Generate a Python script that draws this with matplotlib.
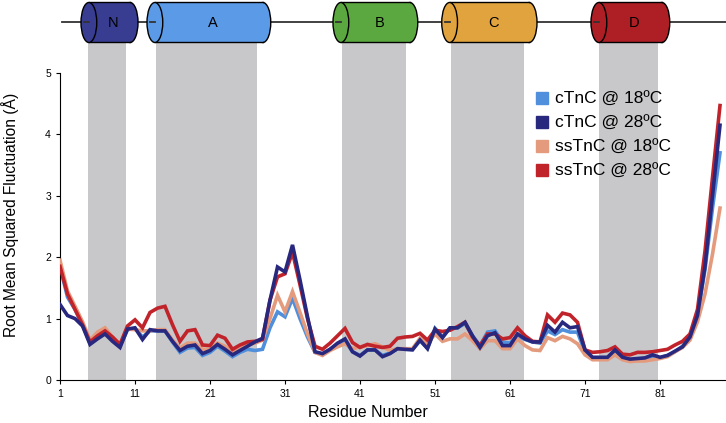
import numpy as np
import matplotlib.pyplot as plt
from matplotlib.patches import Ellipse, Rectangle
from matplotlib.lines import Line2D

plt.rcParams['font.family'] = ['Liberation Sans', 'DejaVu Sans']

# residue numbers
residues = np.arange(1, 90)

# RMSF values (A)
ctnc_18 = [1.85, 1.35, 1.15, 0.90, 0.60, 0.70, 0.78, 0.65, 0.55, 0.82,
           0.84, 0.70, 0.80, 0.80, 0.80, 0.62, 0.45, 0.52, 0.53, 0.40,
           0.45, 0.55, 0.47, 0.38, 0.45, 0.50, 0.48, 0.50, 0.85, 1.11,
           1.03, 1.33, 1.00, 0.70, 0.45, 0.42, 0.50, 0.58, 0.64, 0.46,
           0.40, 0.49, 0.49, 0.40, 0.44, 0.51, 0.50, 0.50, 0.64, 0.52,
           0.84, 0.70, 0.85, 0.85, 0.92, 0.72, 0.56, 0.78, 0.80, 0.62,
           0.60, 0.72, 0.66, 0.62, 0.60, 0.80, 0.74, 0.82, 0.78, 0.78,
           0.45, 0.36, 0.36, 0.36, 0.46, 0.36, 0.33, 0.34, 0.35, 0.38,
           0.36, 0.40, 0.46, 0.55, 0.70, 1.05, 1.80, 2.80, 3.70]
ctnc_28 = [1.23, 1.05, 1.00, 0.88, 0.58, 0.67, 0.75, 0.63, 0.53, 0.83,
           0.85, 0.66, 0.82, 0.80, 0.80, 0.63, 0.48, 0.55, 0.57, 0.43,
           0.48, 0.58, 0.50, 0.41, 0.48, 0.55, 0.62, 0.68, 1.30, 1.84,
           1.76, 2.20, 1.63, 1.03, 0.46, 0.43, 0.50, 0.60, 0.67, 0.46,
           0.39, 0.49, 0.49, 0.38, 0.43, 0.51, 0.50, 0.49, 0.65, 0.51,
           0.83, 0.69, 0.85, 0.85, 0.94, 0.72, 0.53, 0.72, 0.77, 0.56,
           0.56, 0.75, 0.67, 0.62, 0.62, 0.89, 0.78, 0.94, 0.85, 0.87,
           0.49, 0.37, 0.37, 0.37, 0.49, 0.37, 0.34, 0.35, 0.36, 0.41,
           0.37, 0.40, 0.47, 0.54, 0.70, 1.05, 1.85, 3.00, 4.15]
sstnc_18 = [1.95, 1.45, 1.20, 0.95, 0.65, 0.78, 0.85, 0.70, 0.58, 0.83,
            0.82, 0.80, 0.80, 0.82, 0.82, 0.65, 0.52, 0.60, 0.60, 0.50,
            0.50, 0.60, 0.55, 0.45, 0.50, 0.58, 0.60, 0.65, 1.00, 1.38,
            1.11, 1.44, 1.10, 0.75, 0.45, 0.40, 0.48, 0.54, 0.59, 0.51,
            0.54, 0.56, 0.59, 0.54, 0.48, 0.51, 0.51, 0.51, 0.68, 0.59,
            0.75, 0.63, 0.67, 0.67, 0.75, 0.64, 0.51, 0.64, 0.64, 0.51,
            0.51, 0.67, 0.56, 0.49, 0.48, 0.69, 0.64, 0.71, 0.67, 0.59,
            0.41, 0.33, 0.33, 0.33, 0.41, 0.33, 0.30, 0.31, 0.31, 0.33,
            0.35, 0.38, 0.46, 0.53, 0.65, 0.95, 1.40, 2.05, 2.80]
sstnc_28 = [1.85, 1.40, 1.15, 0.90, 0.62, 0.72, 0.80, 0.70, 0.58, 0.88,
            0.98, 0.85, 1.10, 1.17, 1.20, 0.90, 0.63, 0.80, 0.82, 0.57,
            0.56, 0.73, 0.68, 0.50, 0.57, 0.62, 0.63, 0.66, 1.30, 1.68,
            1.73, 2.08, 1.55, 1.00, 0.55, 0.50, 0.60, 0.72, 0.84, 0.61,
            0.53, 0.58, 0.55, 0.53, 0.55, 0.68, 0.70, 0.71, 0.76, 0.65,
            0.81, 0.79, 0.81, 0.87, 0.94, 0.70, 0.56, 0.75, 0.75, 0.67,
            0.69, 0.85, 0.72, 0.63, 0.62, 1.06, 0.94, 1.09, 1.06, 0.94,
            0.49, 0.45, 0.46, 0.48, 0.54, 0.42, 0.41, 0.45, 0.45, 0.46,
            0.48, 0.50, 0.57, 0.63, 0.75, 1.15, 2.10, 3.30, 4.47]

labels = ['cTnC @ 18ºC', 'cTnC @ 28ºC', 'ssTnC @ 18ºC', 'ssTnC @ 28ºC']
colors = ['#4F8FDC', '#28287F', '#E49A7C', '#C1232B']

# helix regions (residue ranges) and shaded bands
helix_names = ['N', 'A', 'B', 'C', 'D']
helix_start = [3.8, 12.6, 37.4, 51.9, 71.8]
helix_end = [11.4, 29.1, 48.7, 64.6, 82.3]
helix_colors = ['#383D92', '#5A9AE6', '#5BA840', '#E1A33E', '#AE1E25']
band_start = [4.7, 13.8, 38.6, 53.1, 72.9]
band_end = [9.8, 27.2, 47.1, 62.9, 80.7]

W, H = 726, 423
fig = plt.figure(figsize=(W / 100, H / 100), dpi=100)

ymax = (380 - 43) / 61.4
ax = fig.add_axes([60 / W, (H - 380) / H, (W - 60) / W, (380 - 43) / H])
ax.set_xlim(1, 89.8)
ax.set_ylim(0, ymax)

for s, e in zip(band_start, band_end):
    ax.axvspan(s, e, color='#C8C8CA', lw=0, zorder=0)

order = [0, 2, 3, 1]
series = [ctnc_18, ctnc_28, sstnc_18, sstnc_28]
for i in order:
    ax.plot(residues, series[i], color=colors[i], lw=2.6, zorder=2 + order.index(i),
            solid_joinstyle='miter')

ax.spines['top'].set_visible(False)
ax.spines['right'].set_visible(False)
ax.spines['left'].set_bounds(0, 5)
ax.set_yticks([0, 1, 2, 3, 4, 5])
ax.set_xticks(np.arange(1, 82, 10))
ax.tick_params(labelsize=7.5, length=3, width=0.8)
ax.set_xlabel('Residue Number', fontsize=11.5)
ax.xaxis.set_label_coords(0.4625, -0.075)
ax.set_ylabel('Root Mean Squared Fluctuation (Å)', fontsize=11.2)
ax.yaxis.set_label_coords(-0.062, 0.49)

handles = [Line2D([], [], marker='s', ls='', color=c, markersize=8.5) for c in colors]
ax.legend(handles, labels, loc='upper left', bbox_to_anchor=(0.7, 0.875), frameon=False,
          fontsize=12.5, handletextpad=0.25, labelspacing=0.5, borderaxespad=0,
          handlelength=1.0)

# helix cartoon on top
top = fig.add_axes([60 / W, (H - 45) / H, (W - 60) / W, 45 / H])
top.set_xlim(1, 89.8)
top.set_ylim(45, 0)
top.axis('off')
top.plot([1.3, 89.8], [22, 22], color='#333333', lw=1.3, zorder=1)
ew = 2.1
for name, s, e, c in zip(helix_names, helix_start, helix_end, helix_colors):
    top.add_patch(Ellipse((e - ew / 2, 22.5), ew, 40, fc=c, ec='black', lw=1, zorder=2))
    top.add_patch(Rectangle((s + ew / 2, 2.5), e - s - ew, 40, fc=c, ec='none', zorder=3))
    top.plot([s + ew / 2, e - ew / 2], [2.5, 2.5], color='black', lw=1, zorder=4)
    top.plot([s + ew / 2, e - ew / 2], [42.5, 42.5], color='black', lw=1, zorder=4)
    top.add_patch(Ellipse((s + ew / 2, 22.5), ew, 40, fc=c, ec='black', lw=1, zorder=5))
    top.plot([s + ew / 2 - 0.6, s + ew / 2], [22, 22], color='#333333', lw=1.3, zorder=6)
    top.text((s + e) / 2 + ew / 4, 23, name, ha='center', va='center', fontsize=10.5, zorder=7)

fig.savefig('out.png', dpi=100)
